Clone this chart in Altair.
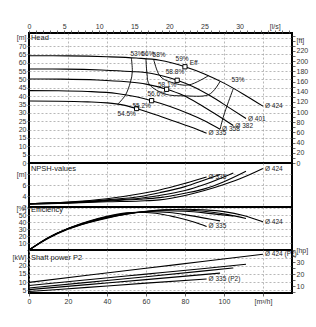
import altair as alt
import pandas as pd

# ------------------------------------------------------------------ data
diameters = ["424", "401", "382", "358", "335"]

# Head curves (flow m³/h, head m)
head_q_424 = [0, 20, 40, 55, 67, 80, 90, 100, 110, 120]
head_h_424 = [64.2, 64.1, 63.6, 62.8, 61.5, 57.6, 53.3, 47.8, 41.2, 34.0]
head_q_401 = [0, 19, 37, 52, 63, 76, 84, 93, 102, 111.3]
head_h_401 = [56.3, 56.2, 55.7, 54.8, 53.6, 49.5, 45.8, 40.2, 33.6, 26.6]
head_q_382 = [0, 17, 35, 50, 60, 70.6, 79, 87, 96, 104.8]
head_h_382 = [50.3, 50.2, 49.7, 48.6, 47.2, 44.1, 40.5, 35.5, 29.0, 22.4]
head_q_358 = [0, 15, 30, 45, 55, 62.9, 72, 82, 90, 98]
head_h_358 = [43.3, 43.2, 42.8, 41.6, 39.6, 37.3, 34.0, 29.5, 25.3, 20.2]
head_q_335 = [0, 15, 30, 40, 48, 55.2, 65, 75, 83, 91.1]
head_h_335 = [37.1, 37.0, 36.6, 36.0, 34.8, 32.6, 28.9, 24.8, 21.5, 17.8]

# best efficiency points
bep_q = [80, 76, 70.6, 62.9, 55.2]
bep_h = [57.6, 49.5, 44.1, 37.3, 32.6]
bep_labels = ["58.8%", "58.1%", "56.6%", "55.2%", "54.5%"]

# iso-efficiency contours
iso_53l_q = [52.5, 53, 52, 49.5, 45.5]
iso_53l_h = [62.9, 54.8, 48.3, 40.7, 35.2]
iso_56_q = [60, 60.5, 62, 70, 79.5, 92, 98]
iso_56_h = [62.3, 53.9, 46.6, 41.2, 40.2, 40.8, 48.9]
iso_58_q = [64, 67, 73, 82, 92]
iso_58_h = [61.8, 52.3, 48.3, 46.7, 52.2]
iso_53r_q = [104.8, 101.5, 99.6, 98]
iso_53r_h = [44.6, 34.0, 27.3, 20.2]
iso_label_text = ["53%", "56%", "58%", "59%", "53%", "Eff"]
iso_label_q = [55.4, 61.0, 66.7, 78.5, 107.2, 84.5]
iso_label_h = [65.0, 65.0, 64.6, 62.2, 49.7, 59.6]

# NPSH curves (m)
npsh_q_424 = [0, 20, 40, 57, 67, 80, 90, 100, 110, 120]
npsh_v_424 = [2.5, 2.7, 2.95, 3.1, 3.3, 4.1, 5.0, 6.1, 7.4, 9.0]
npsh_q_401 = [0, 20, 40, 57, 67, 80, 90, 100, 111.3]
npsh_v_401 = [2.55, 2.75, 3.1, 3.4, 3.7, 4.5, 5.3, 6.6, 8.5]
npsh_q_382 = [0, 20, 40, 57, 67, 80, 90, 104.8]
npsh_v_382 = [2.6, 2.8, 3.2, 3.6, 4.1, 5.0, 6.1, 8.2]
npsh_q_358 = [0, 20, 40, 57, 67, 80, 90, 98]
npsh_v_358 = [2.6, 2.85, 3.3, 3.9, 4.6, 5.7, 6.9, 7.9]
npsh_q_335 = [0, 20, 40, 57, 67, 80, 91.1]
npsh_v_335 = [2.6, 2.9, 3.5, 4.4, 5.1, 6.3, 7.45]

# Efficiency curves (%)
eff_q_424 = [0, 10, 20, 30, 40, 50, 60, 70, 80, 90, 100, 110, 120]
eff_v_424 = [0, 17, 30, 39, 46, 51.5, 55.5, 58, 58.8, 57.8, 55.3, 49.8, 40.6]
eff_q_401 = [0, 10, 20, 30, 40, 50, 60, 70, 76, 85, 95, 102, 111.3]
eff_v_401 = [0, 17.5, 30.5, 39.5, 46.5, 52, 55.8, 57.8, 58.1, 57, 54, 51, 45.5]
eff_q_382 = [0, 10, 20, 30, 40, 50, 60, 70.6, 80, 90, 98, 104.8]
eff_v_382 = [0, 17.5, 30.5, 40, 47, 52.5, 55.5, 56.6, 55.8, 53.5, 51, 49]
eff_q_358 = [0, 10, 20, 30, 40, 50, 62.9, 72, 80, 90, 98]
eff_v_358 = [0, 18, 31, 40.5, 48, 53, 55.2, 54, 51, 46, 42]
eff_q_335 = [0, 10, 20, 30, 40, 50, 55.2, 65, 75, 85, 91.1]
eff_v_335 = [0, 18, 31, 41, 48.5, 53.5, 54.5, 53, 47.5, 40, 34]

# Shaft power P2 (kW)
pow_q_424 = [0, 30, 60, 90, 120]
pow_v_424 = [9.8, 14.2, 18.5, 22.9, 27.2]
pow_q_401 = [0, 30, 60, 90, 111.3]
pow_v_401 = [7.8, 11.4, 14.9, 18.4, 21.0]
pow_q_382 = [0, 30, 60, 90, 104.8]
pow_v_382 = [6.3, 9.8, 13.3, 16.9, 18.7]
pow_q_358 = [0, 30, 60, 98]
pow_v_358 = [5.3, 8.4, 11.5, 15.5]
pow_q_335 = [0, 30, 60, 91.1]
pow_v_335 = [4.1, 6.7, 9.3, 11.9]

# axis ranges
Q_MAX = 134.9          # m³/h at right border
H_MAX = 77.8           # m at top of head panel
NPSH_DOM = [2, 10]
EFF_DOM = [0, 62]
POW_DOM = [3.2, 29.83]
KW_PER_HP = 0.7457
M_PER_FT = 0.3048

FONT = "Liberation Sans"
TXT = "#1a1a1a"


def curves(qs, vs):
    rows = []
    for d, ql, vl in zip(diameters, qs, vs):
        for i, (q, v) in enumerate(zip(ql, vl)):
            rows.append({"d": d, "i": i, "q": q, "v": v})
    return pd.DataFrame(rows)


def ends(qs, vs, which, suffix=""):
    rows = []
    for d, ql, vl in zip(diameters, qs, vs):
        if d in which:
            rows.append({"q": ql[-1], "v": vl[-1], "t": "Ø " + d + suffix})
    return pd.DataFrame(rows)


head_qs = [head_q_424, head_q_401, head_q_382, head_q_358, head_q_335]
head_vs = [head_h_424, head_h_401, head_h_382, head_h_358, head_h_335]
npsh_qs = [npsh_q_424, npsh_q_401, npsh_q_382, npsh_q_358, npsh_q_335]
npsh_vs = [npsh_v_424, npsh_v_401, npsh_v_382, npsh_v_358, npsh_v_335]
eff_qs = [eff_q_424, eff_q_401, eff_q_382, eff_q_358, eff_q_335]
eff_vs = [eff_v_424, eff_v_401, eff_v_382, eff_v_358, eff_v_335]
pow_qs = [pow_q_424, pow_q_401, pow_q_382, pow_q_358, pow_q_335]
pow_vs = [pow_v_424, pow_v_401, pow_v_382, pow_v_358, pow_v_335]

iso_rows = []
for cid, ql, hl in [("53l", iso_53l_q, iso_53l_h), ("56", iso_56_q, iso_56_h),
                    ("58", iso_58_q, iso_58_h), ("53r", iso_53r_q, iso_53r_h)]:
    for i, (q, h) in enumerate(zip(ql, hl)):
        iso_rows.append({"c": cid, "i": i, "q": q, "v": h})
iso_df = pd.DataFrame(iso_rows)
iso_lab_df = pd.DataFrame({"q": iso_label_q, "v": iso_label_h, "t": iso_label_text})
bep_df = pd.DataFrame({"q": bep_q, "v": bep_h, "t": bep_labels})

# ------------------------------------------------------------------ axes
GRID = dict(grid=True, gridColor="#9a9a9a", gridDash=[2, 2], gridWidth=0.7)
xs = alt.Scale(domain=[0, Q_MAX], nice=False, zero=False)
x_grid_only = alt.Axis(values=[20, 40, 60, 80, 100, 120], labels=False, ticks=False,
                       domain=False, title=None, **GRID)
x_bottom = alt.Axis(values=[0, 20, 40, 60, 80, 100, 120],
                    labelExpr="datum.value == 120 ? '[m³/h]' : datum.label",
                    tickSize=3, domain=False, title=None, labelPadding=1, **GRID)


def yaxis(values, top_value, unit):
    return alt.Axis(values=values,
                    labelExpr=f"datum.value == {top_value} ? '{unit}' : (datum.value == 0 ? '' : datum.label)",
                    tickSize=2, domain=False, title=None, labelPadding=1, **GRID)


def panel(df, ydom, y_ax, x_ax, height, title_text, title_v, label_df, extra=None,
          top_layers=None, right_layer=None):
    ys = alt.Scale(domain=ydom, nice=False, zero=False)
    X = alt.X("q:Q", scale=xs, axis=x_ax)
    Y = alt.Y("v:Q", scale=ys, axis=y_ax)
    layers = [
        alt.Chart(df).mark_line(color="black", strokeWidth=1.1, interpolate="monotone")
        .encode(x=X, y=Y, detail="d:N"),
        alt.Chart(label_df).mark_text(align="left", baseline="middle", dx=2,
                                      fontSize=6.5, font=FONT, color=TXT)
        .encode(x=X, y=Y, text="t:N"),
        alt.Chart(pd.DataFrame({"q": [1.0], "v": [title_v], "t": [title_text]}))
        .mark_text(align="left", baseline="middle", fontSize=7.5, font=FONT, color=TXT)
        .encode(x=X, y=Y, text="t:N"),
    ]
    if extra:
        layers += extra(X, Y)
    main = alt.layer(*layers)
    outer = [main]
    if top_layers:
        outer += top_layers
    if right_layer is not None:
        outer.append(right_layer)
    if len(outer) > 1:
        ch = alt.layer(*outer).resolve_scale(x="independent", y="independent")
    else:
        ch = main
    return ch.properties(width=263, height=height)


def head_extra(X, Y):
    return [
        alt.Chart(iso_df).mark_line(color="black", strokeWidth=0.9, interpolate="cardinal")
        .encode(x=X, y=Y, detail="c:N", order="i:Q"),
        alt.Chart(bep_df).mark_square(size=18, fill="white", stroke="black",
                                      strokeWidth=1, opacity=1)
        .encode(x=X, y=Y),
        alt.Chart(bep_df).mark_text(dx=-10, dy=5, fontSize=6.5, font=FONT, color=TXT)
        .encode(x=X, y=Y, text="t:N"),
        alt.Chart(iso_lab_df).mark_text(baseline="middle", fontSize=6.5, font=FONT, color=TXT)
        .encode(x=X, y=Y, text="t:N"),
    ]


ls_layer = alt.Chart(pd.DataFrame({"ls": [0, Q_MAX / 3.6]})).mark_point(opacity=0).encode(
    x=alt.X("ls:Q", scale=alt.Scale(domain=[0, Q_MAX / 3.6], nice=False, zero=False),
            axis=alt.Axis(orient="top", values=list(range(0, 38)),
                          labelExpr="datum.value % 5 == 0 ? (datum.value == 35 ? '[l/s]' : datum.label) : ''",
                          tickSize=3, grid=False, domain=False, title=None, labelPadding=1)))

ft_layer = alt.Chart(pd.DataFrame({"ft": [0, H_MAX / M_PER_FT]})).mark_point(opacity=0).encode(
    y=alt.Y("ft:Q", scale=alt.Scale(domain=[0, H_MAX / M_PER_FT], nice=False, zero=False),
            axis=alt.Axis(orient="right", values=list(range(0, 251, 10)),
                          labelExpr="datum.value % 20 == 0 ? (datum.value == 240 ? '[ft]' : datum.label) : ''",
                          tickSize=3, grid=False, domain=False, title=None, labelPadding=1)))

hp_dom = [POW_DOM[0] / KW_PER_HP, POW_DOM[1] / KW_PER_HP]
hp_layer = alt.Chart(pd.DataFrame({"hp": hp_dom})).mark_point(opacity=0).encode(
    y=alt.Y("hp:Q", scale=alt.Scale(domain=hp_dom, nice=False, zero=False),
            axis=alt.Axis(orient="right", values=[5, 10, 15, 20, 25, 30, 35, 40],
                          labelExpr="datum.value % 10 == 0 ? (datum.value == 40 ? '[hp]' : datum.label) : ''",
                          tickSize=3, grid=False, domain=False, title=None, labelPadding=1)))

head_panel = panel(curves(head_qs, head_vs), [0, H_MAX],
                   alt.Axis(values=list(range(0, 80, 5)),
                            labelExpr="datum.value == 75 ? '[m]' : datum.label",
                            tickSize=2, domain=False, title=None, labelPadding=1, **GRID),
                   x_grid_only, 130,
                   "Head", 75, ends(head_qs, head_vs, diameters), extra=head_extra,
                   top_layers=[ls_layer], right_layer=ft_layer)

npsh_panel = panel(curves(npsh_qs, npsh_vs), NPSH_DOM,
                   alt.Axis(values=[2, 4, 6, 8],
                            labelExpr="datum.value == 8 ? '[m]' : datum.label",
                            tickSize=2, domain=False, title=None, labelPadding=1, **GRID),
                   x_grid_only, 44,
                   "NPSH-values", 8.9, ends(npsh_qs, npsh_vs, ["424", "335"]))

eff_panel = panel(curves(eff_qs, eff_vs), EFF_DOM,
                  yaxis([0, 10, 20, 30, 40, 50, 60], 60, "[%]"), x_grid_only, 43,
                  "Efficiency", 58, ends(eff_qs, eff_vs, ["424", "335"]))

pow_panel = panel(curves(pow_qs, pow_vs), POW_DOM,
                  yaxis([5, 10, 15, 20, 25], 25, "[kW]"), x_bottom, 43,
                  "Shaft power P2", 24.8, ends(pow_qs, pow_vs, ["424", "335"], " (P2)"),
                  right_layer=hp_layer)

chart = alt.vconcat(head_panel, npsh_panel, eff_panel, pow_panel, spacing=0, bounds="flush").properties(
    autosize=alt.AutoSizeParams(type="none"),
    padding={"left": 29, "top": 33, "right": 24, "bottom": 294},
).configure_view(stroke="black", strokeWidth=2).configure_axis(
    labelFont=FONT, labelFontSize=7, labelColor="#333333", tickColor="#444444", tickWidth=0.8,
    labelOverlap=False, labelFlush=False
).configure_axisY(labelLimit=40)

chart.save("out.html", embed_options={"renderer": "svg", "actions": False})
